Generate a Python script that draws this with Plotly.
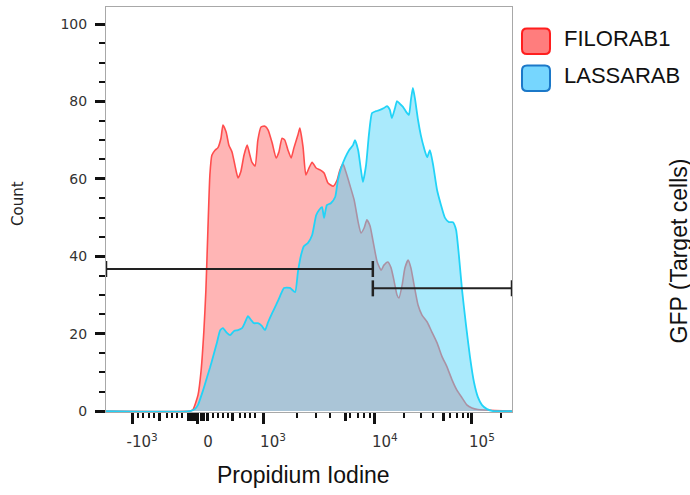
import numpy as np
import plotly.graph_objects as go

# ---------------- data (x in display channels 0-1024, y = count) ----------------
filo_channel = [0, 212, 219, 232, 240, 247, 252, 257, 262, 267, 275, 282, 290, 295, 303, 310, 318,
                325, 333, 340, 348, 356, 363, 368, 376, 383, 391, 401, 409, 419, 429, 436, 444,
                451, 459, 467, 474, 484, 489, 497, 504, 512, 520, 530, 540, 550, 560, 573, 583,
                590, 598, 605, 615, 626, 636, 643, 651, 658, 666, 673, 684, 694, 701, 711, 719,
                726, 734, 739, 747, 754, 762, 769, 777, 787, 797, 810, 822, 835, 847, 860, 873,
                885, 898, 910, 923, 938, 956, 981, 1024]
filo_count = [0, 0, 0.3, 4.1, 10.6, 20.9, 31.3, 46.8, 61.0, 66.1, 67.4, 68.0, 70.5, 73.9, 72.1, 68.7, 66.9,
              63.6, 60.2, 61.8, 66.1, 68.7, 66.1, 64.3, 63.3, 70.0, 73.4, 73.6, 72.6, 69.3, 65.4, 66.9, 70.5,
              70.0, 67.4, 65.4, 68.0, 71.3, 73.1, 68.2, 61.0, 62.8, 64.3, 62.8, 62.3, 61.5, 58.9, 58.1, 59.7,
              62.3, 63.8, 61.8, 58.4, 54.5, 48.8, 46.0, 47.3, 49.4, 47.8, 44.2, 38.5, 36.4, 37.7, 38.5, 37.0,
              33.9, 30.0, 29.2, 32.6, 37.0, 39.0, 37.0, 32.6, 27.4, 24.8, 23.0, 20.4, 17.6, 14.2, 11.4, 8.0,
              5.4, 3.4, 1.6, 0.8, 0.4, 0.26, 0.13, 0]

lassa_channel = [0, 212, 224, 232, 245, 255, 262, 270, 280, 288, 295, 305, 313, 323, 333, 343, 351,
                 358, 366, 373, 383, 393, 401, 409, 419, 429, 439, 449, 464, 477, 484, 492, 499,
                 509, 520, 530, 537, 545, 550, 557, 567, 578, 585, 593, 603, 613, 623, 628, 636,
                 643, 648, 656, 663, 671, 681, 691, 701, 709, 716, 721, 729, 734, 742, 749, 757,
                 764, 769, 774, 779, 787, 794, 802, 810, 817, 825, 835, 845, 855, 865, 875, 883,
                 890, 898, 908, 918, 928, 938, 948, 961, 976, 1024]
lassa_count = [0, 0, 0.5, 1.6, 5.4, 8.8, 11.1, 14.0, 17.8, 20.9, 21.4, 20.2, 19.6, 20.7, 20.9, 21.4, 23.0,
               24.5, 23.5, 22.7, 22.7, 22.0, 20.9, 23.0, 25.3, 27.4, 29.7, 31.8, 31.8, 30.7, 35.9, 40.3, 42.6,
               43.4, 45.5, 50.6, 51.9, 52.7, 49.9, 53.2, 53.7, 55.3, 59.7, 62.8, 65.4, 67.4, 68.7, 70.0, 67.4,
               62.3, 59.2, 63.6, 71.3, 77.0, 77.5, 77.8, 78.3, 78.8, 77.8, 75.7, 78.3, 80.1, 79.3, 78.6, 77.3,
               76.5, 80.4, 83.5, 80.9, 75.2, 71.3, 68.0, 65.6, 67.4, 63.6, 57.1, 53.2, 49.9, 48.8, 48.8, 46.8,
               40.3, 31.3, 22.2, 14.0, 7.5, 3.6, 1.6, 0.5, 0, 0]

assert len(filo_channel) == len(filo_count)
assert len(lassa_channel) == len(lassa_count)

series_names = ["FILORAB1", "LASSARAB"]

# gates: (start channel, end channel, height in count units)
gate_start = [0, 673]
gate_end = [673, 1024]
gate_level = [36.7, 31.7]

# axis ticks (channel positions of labelled decades)
x_tick_channels = [66, 232, 396, 678, 923]
x_tick_labels = ["-10<sup>3</sup>", "0", "10<sup>3</sup>", "10<sup>4</sup>", "10<sup>5</sup>"]
x_mid_channels = [136, 320, 603, 850, 207, 215, 222, 240, 247, 255]
x_lin_minor = [80, 94, 108, 122, 154, 166, 179, 192, 270, 282, 295, 308, 338, 351, 363, 376]
y_tick_values = [0, 20, 40, 60, 80, 100]

# ---------------- figure ----------------
W, H = 690, 495
L, R, T, B = 106, 178, 7, 83
PW, PH = W - L - R, H - T - B


def px(x):
    return (x - L) / PW


def py(y):
    return (H - B - y) / PH


# log minor ticks between decades (2,3,4,6,7,8,9 x 10^k)
decades = x_tick_channels[2:] + [x_tick_channels[-1] + (x_tick_channels[-1] - x_tick_channels[-2])]
log_minor = []
for a, b in zip(decades[:-1], decades[1:]):
    for m in [2, 3, 4, 6, 7, 8, 9]:
        v = a + np.log10(m) * (b - a)
        if v < 1024:
            log_minor.append(float(v))

fig = go.Figure()
fig.add_trace(go.Scatter(
    x=filo_channel, y=filo_count, name=series_names[0], mode="lines",
    line=dict(color="#ff4d4d", width=1.6, shape="spline", smoothing=0.5),
    fill="tozeroy", fillcolor="rgba(255,70,70,0.4)", showlegend=False))
fig.add_trace(go.Scatter(
    x=lassa_channel, y=lassa_count, name=series_names[1], mode="lines",
    line=dict(color="#22d3f7", width=1.8, shape="spline", smoothing=0.5),
    fill="tozeroy", fillcolor="rgba(85,213,249,0.5)", showlegend=False))
# carrier for the unlabelled secondary tick axis
fig.add_trace(go.Scatter(x=[None], y=[None], xaxis="x2", mode="lines", showlegend=False,
                         hoverinfo="skip"))

shapes = []
for x0, x1, yv in zip(gate_start, gate_end, gate_level):
    shapes.append(dict(type="line", xref="x", yref="y", x0=x0, x1=x1, y0=yv, y1=yv,
                       line=dict(color="#222", width=2)))
    for xc in (x0, x1):
        shapes.append(dict(type="line", xref="x", yref="y", ysizemode="pixel", yanchor=yv,
                           x0=xc, x1=xc, y0=-8, y1=8, line=dict(color="#222", width=2.5)))


def rounded_rect(x0, y0, x1, y1, r):
    pts = [("M", x0 + r, y0), ("L", x1 - r, y0), ("Q", x1, y0, x1, y0 + r), ("L", x1, y1 - r),
           ("Q", x1, y1, x1 - r, y1), ("L", x0 + r, y1), ("Q", x0, y1, x0, y1 - r), ("L", x0, y0 + r),
           ("Q", x0, y0, x0 + r, y0)]
    out = []
    for p in pts:
        cmd = p[0]
        coords = p[1:]
        s = cmd + " " + " ".join(
            f"{px(coords[i]):.5f},{py(coords[i + 1]):.5f}" for i in range(0, len(coords), 2))
        out.append(s)
    return " ".join(out) + " Z"


legend_fill = ["#ff7d7d", "#76d6fe"]
legend_edge = ["#ff1e1e", "#1b78c8"]
legend_rows = [28.5, 65.5]
annotations = []
for name, fc, ec, top in zip(series_names, legend_fill, legend_edge, legend_rows):
    shapes.append(dict(type="path", xref="paper", yref="paper",
                       path=rounded_rect(522, top, 550, top + 25.5, 5),
                       fillcolor=fc, line=dict(color=ec, width=2)))
    annotations.append(dict(text=name, xref="paper", yref="paper", x=px(562), y=py(top + 10),
                            xanchor="left", yanchor="middle", showarrow=False,
                            font=dict(family="Liberation Sans, Arial", size=22, color="#111")))

annotations += [
    dict(text="Count", xref="paper", yref="paper", x=px(18), y=py(204), textangle=-90,
         xanchor="center", yanchor="middle", showarrow=False,
         font=dict(family="DejaVu Sans", size=15, color="#222")),
    dict(text="Propidium Iodine", xref="paper", yref="paper", x=px(303.5), y=py(475),
         xanchor="center", yanchor="middle", showarrow=False,
         font=dict(family="Liberation Sans, Arial", size=23, color="#111")),
    dict(text="GFP (Target cells)", xref="paper", yref="paper", x=px(679), y=py(251.5), textangle=-90,
         xanchor="center", yanchor="middle", showarrow=False,
         font=dict(family="Liberation Sans, Arial", size=23, color="#111")),
]

x_tick_font = dict(family="DejaVu Sans", size=15, color="#333")
y_tick_font = dict(family="DejaVu Sans", size=14, color="#333")
fig.update_layout(
    width=W, height=H, margin=dict(l=L, r=R, t=T, b=B, autoexpand=False),
    paper_bgcolor="white", plot_bgcolor="white",
    shapes=shapes, annotations=annotations, showlegend=False,
    xaxis=dict(range=[0, 1024], showgrid=False, zeroline=False, showline=True, mirror=True,
               linecolor="#a8a8a8", linewidth=1, ticks="outside", tickmode="array",
               tickvals=x_tick_channels, ticktext=x_tick_labels,
               ticklen=11, tickwidth=3, tickcolor="#111", tickfont=x_tick_font, ticklabelshift=10,
               ticklabelstandoff=5,
               minor=dict(tickmode="array", tickvals=x_lin_minor + log_minor, ticks="outside",
                          ticklen=5, tickwidth=1.5, tickcolor="#111", showgrid=False)),
    xaxis2=dict(range=[0, 1024], overlaying="x", anchor="y", side="bottom", showgrid=False,
                zeroline=False, showline=False, ticks="outside", tickmode="array",
                tickvals=x_mid_channels, showticklabels=False, ticklen=8, tickwidth=3,
                tickcolor="#111"),
    yaxis=dict(range=[-0.25, 104.4], showgrid=False, zeroline=False, showline=True, mirror=True,
               linecolor="#a8a8a8", linewidth=1, ticks="outside", tickmode="array",
               tickvals=y_tick_values, ticklen=10, tickwidth=3, tickcolor="#111", tickfont=y_tick_font,
               ticklabelstandoff=5,
               minor=dict(tickmode="linear", tick0=0, dtick=5, ticks="outside", ticklen=6,
                          tickwidth=1.5, tickcolor="#111", showgrid=False)),
)

fig.write_html("out.html", config={"displayModeBar": False},
               post_script="document.body.style.margin='0';document.body.style.padding='0';")
